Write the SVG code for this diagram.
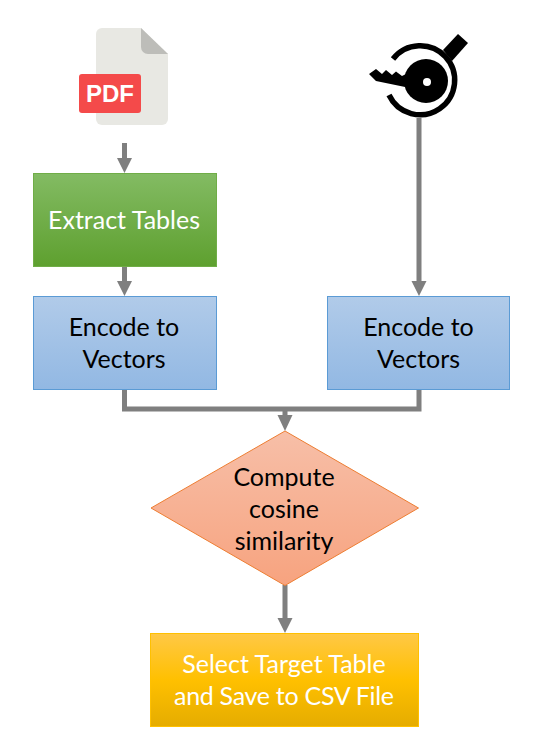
<svg xmlns="http://www.w3.org/2000/svg" width="547" height="741" viewBox="0 0 547 741">
<style>
.t{font-family:"Lato","Noto Sans",sans-serif;font-size:25px;text-anchor:middle}
.k{fill:#000}.w{fill:#fff}
.c{fill:none;stroke:#7f7f7f;stroke-width:5}
.h{fill:#7f7f7f}
</style>
<defs>
<linearGradient id="g" x1="0" y1="0" x2="0" y2="1"><stop offset="0" stop-color="#83bb63"/><stop offset="1" stop-color="#5ea02f"/></linearGradient>
<linearGradient id="b" x1="0" y1="0" x2="0" y2="1"><stop offset="0" stop-color="#b1cbe9"/><stop offset="1" stop-color="#92b8e3"/></linearGradient>
<linearGradient id="o" x1="0" y1="0" x2="0" y2="1"><stop offset="0" stop-color="#f7bfa8"/><stop offset="1" stop-color="#f7a37f"/></linearGradient>
<linearGradient id="y" x1="0" y1="0" x2="0" y2="1"><stop offset="0" stop-color="#ffc846"/><stop offset=".5" stop-color="#ffc000"/><stop offset="1" stop-color="#e5ac00"/></linearGradient>
</defs>
<g id="connectors">
<path class="c" d="M124.500 143V160M124.500 267V283M419 118V283M124.500 389V409H419V389M285 409V417M285 585V620"/>
<path class="h" d="M117 158H132L124.500 173ZM117 281H132L124.500 296ZM411.500 281H426.500L419 296ZM277.500 415H292.500L285 431ZM277.500 618H292.500L285 633Z"/>
</g>
<g id="pdf-icon">
<path d="M102 28H141L168 54V119a6 6 0 0 1-6 6H102a6 6 0 0 1-6-6V34a6 6 0 0 1 6-6Z" fill="#e8e8e3"/>
<path d="M141 28L168 54H148a7 7 0 0 1-7-7Z" fill="#bdbdb9"/>
<rect x="79" y="74" width="62" height="39" rx="3" fill="#f44a4a"/>
<text x="110" y="102" font-family="'Liberation Sans',sans-serif" font-weight="700" font-size="24" text-anchor="middle" fill="#fff">PDF</text>
</g>
<g id="key-icon">
<path d="M393 59A34.500 34.500 0 1 1 389 95" fill="none" stroke="#000" stroke-width="5.500"/>
<path d="M443 50L458 34L468 43L452 61Z" class="k"/>
<circle cx="426" cy="81" r="22" class="k"/>
<path d="M369 74L376 69L382 74L386 70L392 75L396 71.500L402 76L410 72V88L376 81Z" class="k"/>
<circle cx="427" cy="82" r="4" class="w"/>
</g>
<g id="extract-tables">
<rect x="33.500" y="173.500" width="183" height="93" fill="url(#g)" stroke="#70ad47"/>
<text class="t w" x="124" y="229">Extract Tables</text>
</g>
<g id="encode-left">
<rect x="33.500" y="296.500" width="183" height="93" fill="url(#b)" stroke="#5b9bd5"/>
<text class="t k" x="124" y="336">Encode to</text>
<text class="t k" x="124" y="368">Vectors</text>
</g>
<g id="encode-right">
<rect x="327.500" y="296.500" width="182" height="93" fill="url(#b)" stroke="#5b9bd5"/>
<text class="t k" x="418.500" y="336">Encode to</text>
<text class="t k" x="418.500" y="368">Vectors</text>
</g>
<g id="compute-similarity">
<path d="M285 431L418.500 508L285 585.500L151 508Z" fill="url(#o)" stroke="#ed7d31"/>
<text class="t k" x="284" y="485.500">Compute</text>
<text class="t k" x="284" y="517.500">cosine</text>
<text class="t k" x="284" y="549.500">similarity</text>
</g>
<g id="select-target">
<rect x="150.500" y="633.500" width="268" height="93" fill="url(#y)" stroke="#ffc000"/>
<text class="t w" x="284" y="673">Select Target Table</text>
<text class="t w" x="284" y="705" textLength="220">and Save to CSV File</text>
</g>
</svg>
